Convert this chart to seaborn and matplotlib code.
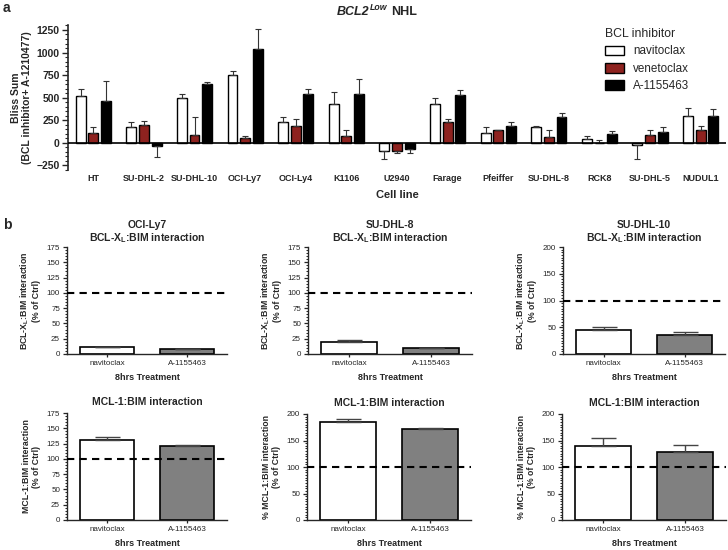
import numpy as np
import pandas as pd
import matplotlib
matplotlib.use("Agg")
import matplotlib.pyplot as plt
from matplotlib.ticker import MultipleLocator
import seaborn as sns

# ---------------- data ----------------
cells = ["HT", "SU-DHL-2", "SU-DHL-10", "OCI-Ly7", "OCI-Ly4", "K1106", "U2940",
         "Farage", "Pfeiffer", "SU-DHL-8", "RCK8", "SU-DHL-5", "NUDUL1"]
drugs = ["navitoclax", "venetoclax", "A-1155463"]
nav = [518, 178, 492, 747, 233, 433, -92, 433, 111, 178, 44, -22, 296]
nav_err = [74, 51, 44, 52, 56, 133, 86, 59, 70, 7, 37, 156, 89]
ven = [111, 200, 92, 55, 192, 74, -92, 229, 141, 63, 0, 85, 141]
ven_err = [63, 44, 193, 26, 74, 67, 19, 41, 7, 85, 37, 63, 44]
a115 = [462, -30, 648, 1043, 536, 544, -67, 529, 192, 289, 96, 126, 296]
a115_err = [222, 125, 25, 222, 64, 166, 44, 56, 37, 44, 34, 55, 81]

treatments = ["navitoclax", "A-1155463"]
bx_ocily7 = [12, 8]
bx_ocily7_err = [0, 0]
bx_sudhl8 = [20, 10]
bx_sudhl8_err = [3, 0]
bx_sudhl10 = [44, 35]
bx_sudhl10_err = [7, 7]
mcl_ocily7 = [131, 121]
mcl_ocily7_err = [4, 2]
mcl_sudhl8 = [185, 171]
mcl_sudhl8_err = [5, 3]
mcl_sudhl10 = [140, 128]
mcl_sudhl10_err = [15, 14]

# ---------------- style ----------------
sns.set_style("ticks")
plt.rcParams["font.family"] = ["Liberation Sans", "DejaVu Sans"]
plt.rcParams["mathtext.fontset"] = "custom"
plt.rcParams["mathtext.rm"] = "Liberation Sans"
plt.rcParams["mathtext.bf"] = "Liberation Sans:bold"

W, H = 728, 550
fig = plt.figure(figsize=(W / 100, H / 100), dpi=100)
fig.patch.set_facecolor("white")


def px_axes(x0, y0, x1, y1):
    return fig.add_axes([x0 / W, 1 - y1 / H, (x1 - x0) / W, (y1 - y0) / H])


# ---------------- panel a ----------------
ax = px_axes(68, 25, 726, 170)
dfa = pd.DataFrame({
    "cell": cells * 3,
    "drug": [drugs[0]] * len(cells) + [drugs[1]] * len(cells) + [drugs[2]] * len(cells),
    "value": nav + ven + a115,
})
pal = {"navitoclax": "white", "venetoclax": "#a0100c", "A-1155463": "black"}
sns.barplot(data=dfa, x="cell", y="value", hue="drug", hue_order=drugs, order=cells,
            palette=pal, edgecolor="black", linewidth=1.0, width=0.75, gap=0.22,
            errorbar=None, ax=ax)
errs = [nav_err, ven_err, a115_err]
vals = [nav, ven, a115]
for cont, ev, vv in zip(ax.containers, errs, vals):
    xs = [b.get_x() + b.get_width() / 2 for b in cont]
    vv = np.array(vv, float)
    ev = np.array(ev, float)
    lower = np.where(vv < 0, ev, 0)
    upper = np.where(vv >= 0, ev, 0)
    ax.errorbar(xs, vv, yerr=[lower, upper], fmt="none", ecolor="#333333",
                elinewidth=0.8, capsize=2.2, capthick=0.8, zorder=1)
ax.axhline(0, color="black", lw=1.2, zorder=3)
ax.set_ylim(-300, 1305)
ax.set_xlim(-0.5, len(cells) - 0.5)
ax.set_yticks([-250, 0, 250, 500, 750, 1000, 1250])
ax.yaxis.set_minor_locator(MultipleLocator(50))
ax.tick_params(axis="y", which="major", length=4, width=1, labelsize=7.5, pad=2)
ax.tick_params(axis="y", which="minor", length=2, width=0.8)
ax.tick_params(axis="x", length=0, labelsize=6.5, pad=3)
for t in ax.get_xticklabels() + ax.get_yticklabels():
    t.set_fontweight("bold")
for s in ["top", "right", "bottom"]:
    ax.spines[s].set_visible(False)
ax.spines["left"].set_linewidth(1.2)
ax.set_xlabel("Cell line", fontsize=8, fontweight="bold", labelpad=5)
ax.set_ylabel("Bliss Sum\n(BCL inhibitor+ A-1210477)", fontsize=7.5,
              fontweight="bold", labelpad=3, linespacing=1.1)
leg = ax.legend(title="BCL inhibitor", frameon=False, loc="upper left",
                bbox_to_anchor=(0.8, 1.05), fontsize=8.4, title_fontsize=8.8,
                handlelength=1.6, handleheight=0.9, labelspacing=0.45,
                alignment="left")

# title BCL2^Low NHL, pieces chained side by side
fig.canvas.draw()
rend = fig.canvas.get_renderer()
x0 = 337 / W
ybase = 1 - 15 / H
t1 = fig.text(x0, ybase, "BCL2", fontsize=9, fontweight="bold", fontstyle="italic",
              va="baseline", ha="left")
bb = t1.get_window_extent(rend)
t2 = fig.text(bb.x1 / (W) + 0.5 / W, ybase + 4.5 / H, "Low", fontsize=6.3,
              fontweight="bold", fontstyle="italic", va="baseline", ha="left")
bb2 = t2.get_window_extent(rend)
fig.text(bb2.x1 / W + 3 / W, ybase, "NHL", fontsize=9, fontweight="bold",
         va="baseline", ha="left")

fig.text(3 / W, 1 - 8 / H, "a", fontsize=10, fontweight="bold", va="center")
fig.text(3 / W, 1 - 225 / H, "b", fontsize=10, fontweight="bold", va="center")

# ---------------- panel b ----------------
panels = [
    ((67, 247, 227, 354), "OCI-Ly7\nBCL-X$_\\mathbf{L}$:BIM interaction",
     "BCL-X$_\\mathbf{L}$:BIM interaction\n(% of Ctrl)", 175, 25, bx_ocily7, bx_ocily7_err),
    ((308, 247, 472, 354), "SU-DHL-8\nBCL-X$_\\mathbf{L}$:BIM interaction",
     "BCL-X$_\\mathbf{L}$:BIM interaction\n(% of Ctrl)", 175, 25, bx_sudhl8, bx_sudhl8_err),
    ((563, 247, 725, 354), "SU-DHL-10\nBCL-X$_\\mathbf{L}$:BIM interaction",
     "BCL-X$_\\mathbf{L}$:BIM interaction\n(% of Ctrl)", 200, 50, bx_sudhl10, bx_sudhl10_err),
    ((67, 413, 227, 520), "MCL-1:BIM interaction",
     "MCL-1:BIM interaction\n(% of Ctrl)", 175, 25, mcl_ocily7, mcl_ocily7_err),
    ((307, 414, 471, 520), "MCL-1:BIM interaction",
     "% MCL-1:BIM interaction\n(% of Ctrl)", 200, 50, mcl_sudhl8, mcl_sudhl8_err),
    ((562, 414, 726, 520), "MCL-1:BIM interaction",
     "% MCL-1:BIM interaction\n(% of Ctrl)", 200, 50, mcl_sudhl10, mcl_sudhl10_err),
]
bpal = {"navitoclax": "white", "A-1155463": "#808080"}
for i, (box, title, ylab, ymax, ystep, v, e) in enumerate(panels):
    axb = px_axes(*box)
    dfb = pd.DataFrame({"treat": treatments, "value": v})
    sns.barplot(data=dfb, x="treat", y="value", hue="treat", order=treatments,
                hue_order=treatments, palette=bpal, edgecolor="black", linewidth=1.2,
                width=0.675, errorbar=None, legend=False, ax=axb)
    xs = []
    for cont in axb.containers:
        for b in cont:
            xs.append(b.get_x() + b.get_width() / 2)
    xs = sorted(xs)
    axb.errorbar(xs, v, yerr=[np.zeros(len(v)), e], fmt="none", ecolor="#444444",
                 elinewidth=1.0, capsize=9, capthick=1.0, zorder=1)
    axb.axhline(100, color="black", lw=1.5, ls=(0, (3.5, 2.5)), zorder=4)
    axb.set_xlim(-0.5, 1.5)
    axb.set_ylim(0, ymax)
    axb.set_yticks(np.arange(0, ymax + 1, ystep))
    axb.yaxis.set_minor_locator(MultipleLocator(5))
    axb.tick_params(axis="y", which="major", length=3, width=0.9, labelsize=5.8, pad=2)
    axb.tick_params(axis="y", which="minor", length=1.5, width=0.7)
    axb.tick_params(axis="x", length=2.5, width=0.9, labelsize=5.8, pad=2)
    for s in ["top", "right"]:
        axb.spines[s].set_visible(False)
    axb.spines["left"].set_linewidth(1.0)
    axb.spines["bottom"].set_linewidth(1.0)
    axb.set_title(title, fontsize=7.5, fontweight="bold",
                  pad=4 if i < 3 else 6, linespacing=1.1)
    axb.set_ylabel(ylab, fontsize=6.3, fontweight="bold", labelpad=4, linespacing=1.1)
    axb.set_xlabel("8hrs Treatment", fontsize=6.5, fontweight="bold", labelpad=4)

fig.savefig("out.png", dpi=100, facecolor="white")
